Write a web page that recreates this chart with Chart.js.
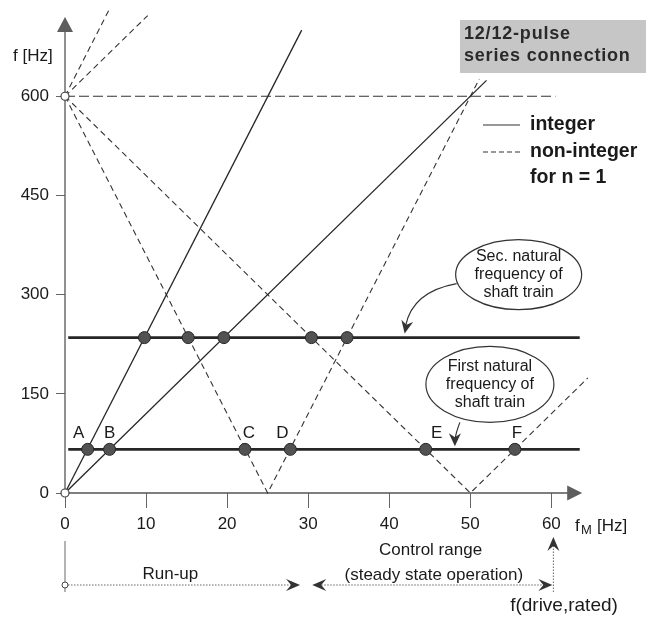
<!DOCTYPE html>
<html><head><meta charset="utf-8">
<script src="https://cdn.jsdelivr.net/npm/chart.js@4/dist/chart.umd.min.js"></script>
<style>html,body{margin:0;padding:0;background:#fff;}#wrap{width:650px;height:626px;}</style>
</head><body><div id="wrap"><canvas id="c" width="650" height="626"></canvas></div>
<script>
// ---- data ----
const xTicks = [0, 10, 20, 30, 40, 50, 60];
const yTicks = [0, 150, 300, 450, 600];
const firstNaturalHz = 66;
const secondNaturalHz = 235;
const naturalLineX = [0.4, 63.5];
// integer harmonics (solid)
const int24X = [0, 29.2], int24Y = [0, 700];
const int12X = [0, 52.0], int12Y = [0, 624];
// non-integer harmonics (dashed)
const nonUp24X = [0, 5.4], nonUp24Y = [600, 730];
const nonUp12X = [0, 10.2], nonUp12Y = [600, 722];
const nonDown24X = [0, 25, 51.1], nonDown24Y = [600, 0, 626];
const nonDown12X = [0, 50, 64.5], nonDown12Y = [600, 0, 174];
const level600X = [0, 60.5], level600Y = [600, 600];
// resonance crossings
const firstCrossX = [2.8, 5.5, 22.2, 27.8, 44.5, 55.5];
const firstCrossLabels = ['A', 'B', 'C', 'D', 'E', 'F'];
const secondCrossX = [9.8, 15.2, 19.6, 30.4, 34.8];
const originPointsY = [0, 600];
const legendLabels = ['integer', 'non-integer', 'for n = 1'];
const boxLines = ['12/12-pulse', 'series connection'];
const secCallout = ['Sec. natural', 'frequency of', 'shaft train'];
const firstCallout = ['First natural', 'frequency of', 'shaft train'];
const runUpEndX = 29, controlStartX = 30.5, ratedX = 60;

const FONT = '"Liberation Sans", Arial, sans-serif';
const pts = (xs, ys) => xs.map((v, i) => ({x: v, y: ys[i]}));
const solid = (d, w) => ({data: d, showLine: true, borderColor: '#262626', borderWidth: w, pointRadius: 0, clip: false, tension: 0});
const dashed = (d, dash) => ({data: d, showLine: true, borderColor: '#333', borderWidth: 1.1, borderDash: dash, pointRadius: 0, clip: false, tension: 0});

function chevron(ctx, tx, ty, ang, len, hw, notch) {
  const c = Math.cos(ang), s = Math.sin(ang);
  const P = (a, b) => [tx - a * c - b * s, ty - a * s + b * c];
  ctx.beginPath();
  ctx.moveTo(tx, ty);
  ctx.lineTo(...P(len, hw));
  ctx.lineTo(...P(len - notch, 0));
  ctx.lineTo(...P(len, -hw));
  ctx.closePath();
  ctx.fill();
}

const deco = {
  id: 'deco',
  beforeDatasetsDraw(chart) {
    const {ctx, scales: {x, y}} = chart;
    const x0 = x.getPixelForValue(0), y0 = y.getPixelForValue(0);
    const yTop = y.getPixelForValue(720), xEnd = x.getPixelForValue(63.8);
    ctx.save();
    ctx.strokeStyle = '#555'; ctx.lineWidth = 1.3;
    ctx.beginPath(); ctx.moveTo(x0, y0); ctx.lineTo(x0, yTop + 10); ctx.stroke();
    ctx.beginPath(); ctx.moveTo(x0, y0); ctx.lineTo(xEnd - 10, y0); ctx.stroke();
    ctx.fillStyle = '#5e5e5e';
    ctx.beginPath(); ctx.moveTo(x0, yTop); ctx.lineTo(x0 - 8, yTop + 15); ctx.lineTo(x0 + 8, yTop + 15); ctx.closePath(); ctx.fill();
    ctx.beginPath(); ctx.moveTo(xEnd, y0); ctx.lineTo(xEnd - 15, y0 - 7.5); ctx.lineTo(xEnd - 15, y0 + 7.5); ctx.closePath(); ctx.fill();
    ctx.restore();
  },
  afterDatasetsDraw(chart) {
    const {ctx, scales: {x, y}} = chart;
    ctx.save();
    ctx.fillStyle = '#1a1a1a';
    ctx.textBaseline = 'middle';
    // A-F labels
    const offs = [-9, 0, 4, -8, 11, 2];
    ctx.font = '17px ' + FONT; ctx.textAlign = 'center';
    firstCrossX.forEach((v, i) => {
      ctx.fillText(firstCrossLabels[i], x.getPixelForValue(v) + offs[i], y.getPixelForValue(firstNaturalHz) - 16);
    });
    // axis titles
    ctx.textAlign = 'left';
    ctx.font = '17px ' + FONT;
    ctx.fillText('f [Hz]', 13, 56);
    const yl = y.getPixelForValue(0) + 33;
    ctx.fillText('f', 575, yl);
    ctx.font = '13px ' + FONT;
    ctx.fillText('M', 581, yl + 4);
    ctx.font = '17px ' + FONT;
    ctx.fillText('[Hz]', 597, yl);
    // gray box
    ctx.fillStyle = '#c6c6c6';
    ctx.fillRect(460, 20, 186, 53);
    ctx.fillStyle = '#2a2a2a';
    ctx.font = 'bold 18px ' + FONT;
    ctx.letterSpacing = '0.8px';
    ctx.fillText(boxLines[0], 464, 34);
    ctx.fillText(boxLines[1], 464, 56);
    ctx.letterSpacing = '0px';
    // legend
    ctx.strokeStyle = '#333'; ctx.lineWidth = 1.2;
    ctx.beginPath(); ctx.moveTo(483, 125); ctx.lineTo(520, 125); ctx.stroke();
    ctx.setLineDash([5, 3]);
    ctx.beginPath(); ctx.moveTo(483, 152); ctx.lineTo(520, 152); ctx.stroke();
    ctx.setLineDash([]);
    ctx.fillStyle = '#1a1a1a';
    ctx.font = 'bold 19.5px ' + FONT;
    ctx.fillText(legendLabels[0], 530, 125);
    ctx.fillText(legendLabels[1], 530, 152);
    ctx.fillText(legendLabels[2], 530, 178);
    // callouts
    ctx.font = '16px ' + FONT; ctx.textAlign = 'center';
    const callout = (cx, cy, rx, ry, lines) => {
      ctx.fillStyle = '#fff'; ctx.strokeStyle = '#333'; ctx.lineWidth = 1.2;
      ctx.beginPath(); ctx.ellipse(cx, cy, rx, ry, 0, 0, Math.PI * 2); ctx.fill(); ctx.stroke();
      ctx.fillStyle = '#1a1a1a';
      lines.forEach((t, i) => ctx.fillText(t, cx, cy - 18 + i * 18));
    };
    const secTipX = x.getPixelForValue(41.9), secTipY = y.getPixelForValue(secondNaturalHz) - 4;
    callout(secTipX + 114, secTipY - 59, 63, 35, secCallout);
    ctx.strokeStyle = '#333'; ctx.lineWidth = 1.2;
    ctx.beginPath(); ctx.moveTo(secTipX + 52, secTipY - 50);
    ctx.quadraticCurveTo(secTipX + 8, secTipY - 42, secTipX + 1, secTipY - 8); ctx.stroke();
    ctx.fillStyle = '#333';
    chevron(ctx, secTipX, secTipY, Math.atan2(34, -7), 13, 6, 4);
    const fTipX = x.getPixelForValue(48.1), fTipY = y.getPixelForValue(firstNaturalHz) - 3;
    callout(fTipX + 35, fTipY - 62, 64, 38, firstCallout);
    ctx.strokeStyle = '#333';
    ctx.beginPath(); ctx.moveTo(fTipX + 5, fTipY - 24);
    ctx.quadraticCurveTo(fTipX + 1, fTipY - 14, fTipX, fTipY - 6); ctx.stroke();
    ctx.fillStyle = '#333';
    chevron(ctx, fTipX, fTipY, Math.PI / 2, 13, 6, 4);
    // bottom annotations
    const bx0 = x.getPixelForValue(0), by = 585;
    ctx.strokeStyle = '#666'; ctx.lineWidth = 1;
    ctx.beginPath(); ctx.moveTo(bx0, 541); ctx.lineTo(bx0, by - 3); ctx.stroke();
    ctx.beginPath(); ctx.moveTo(bx0, by + 3); ctx.lineTo(bx0, 592); ctx.stroke();
    ctx.setLineDash([1.5, 1.5]);
    const rEnd = x.getPixelForValue(runUpEndX), cStart = x.getPixelForValue(controlStartX), rated = x.getPixelForValue(ratedX);
    ctx.beginPath(); ctx.moveTo(bx0 + 3, by); ctx.lineTo(rEnd - 6, by); ctx.stroke();
    ctx.beginPath(); ctx.moveTo(cStart + 6, by); ctx.lineTo(rated - 6, by); ctx.stroke();
    ctx.beginPath(); ctx.moveTo(rated + 2, 592); ctx.lineTo(rated + 2, 545); ctx.stroke();
    ctx.setLineDash([]);
    ctx.fillStyle = '#fff'; ctx.strokeStyle = '#444';
    ctx.beginPath(); ctx.arc(bx0, by, 3, 0, Math.PI * 2); ctx.fill(); ctx.stroke();
    ctx.fillStyle = '#333';
    chevron(ctx, rEnd, by, 0, 14, 6, 5);
    chevron(ctx, cStart, by, Math.PI, 14, 6, 5);
    chevron(ctx, rated + 1, by, 0, 14, 6, 5);
    chevron(ctx, rated + 2, 537, -Math.PI / 2, 14, 6, 5);
    ctx.fillStyle = '#1a1a1a';
    ctx.font = '17px ' + FONT; ctx.textAlign = 'center';
    ctx.fillText('Run-up', x.getPixelForValue(13), 574);
    ctx.fillText('Control range', x.getPixelForValue(45.1), 550);
    ctx.fillText('(steady state operation)', x.getPixelForValue(45.5), 575);
    ctx.font = '19px ' + FONT;
    ctx.fillText('f(drive,rated)', 564, 606);
    ctx.restore();
  }
};

const dotStyle = {showLine: false, pointRadius: 6, pointBackgroundColor: '#525252', pointBorderColor: '#262626', pointBorderWidth: 1, clip: false};

new Chart(document.getElementById('c'), {
  type: 'line',
  data: {
    datasets: [
      Object.assign({data: pts(firstCrossX, firstCrossX.map(() => firstNaturalHz))}, dotStyle),
      Object.assign({data: pts(secondCrossX, secondCrossX.map(() => secondNaturalHz))}, dotStyle),
      {data: pts([0, 0], originPointsY), showLine: false, pointRadius: 4, pointBackgroundColor: '#fff', pointBorderColor: '#444', pointBorderWidth: 1.2, clip: false},
      solid(pts(naturalLineX, [firstNaturalHz, firstNaturalHz]), 2.6),
      solid(pts(naturalLineX, [secondNaturalHz, secondNaturalHz]), 2.6),
      solid(pts(int24X, int24Y), 1.3),
      solid(pts(int12X, int12Y), 1.3),
      dashed(pts(nonUp24X, nonUp24Y), [6, 4]),
      dashed(pts(nonUp12X, nonUp12Y), [6, 4]),
      dashed(pts(nonDown24X, nonDown24Y), [6, 4]),
      dashed(pts(nonDown12X, nonDown12Y), [6, 4]),
      dashed(pts(level600X, level600Y), [10, 4])
    ]
  },
  options: {
    responsive: false, animation: false, devicePixelRatio: 1,
    layout: {padding: {top: 3, right: 50, left: 0, bottom: 0}},
    plugins: {legend: {display: false}, tooltip: {enabled: false}},
    scales: {
      x: {
        type: 'linear', min: 0, max: 66,
        afterBuildTicks: s => { s.ticks = xTicks.map(v => ({value: v})); },
        afterFit: s => { s.height = 133; s.paddingLeft = 0; s.paddingRight = 0; s.paddingTop = 0; s.paddingBottom = 0; },
        grid: {drawOnChartArea: false, drawTicks: true, tickLength: 15, color: '#666', lineWidth: 1},
        border: {display: false},
        ticks: {autoSkip: false, maxRotation: 0, padding: 6, color: '#1a1a1a', font: {family: FONT, size: 17}}
      },
      y: {
        type: 'linear', min: 0, max: 735,
        afterBuildTicks: s => { s.ticks = yTicks.map(v => ({value: v})); },
        afterFit: s => { s.width = 65; s.paddingLeft = 0; s.paddingRight = 0; s.paddingTop = 0; s.paddingBottom = 0; },
        grid: {drawOnChartArea: false, drawTicks: true, tickLength: 9, color: '#666', lineWidth: 1},
        border: {display: false},
        ticks: {autoSkip: false, padding: 7, color: '#1a1a1a', font: {family: FONT, size: 17}}
      }
    }
  },
  plugins: [deco]
});
</script></body></html>
